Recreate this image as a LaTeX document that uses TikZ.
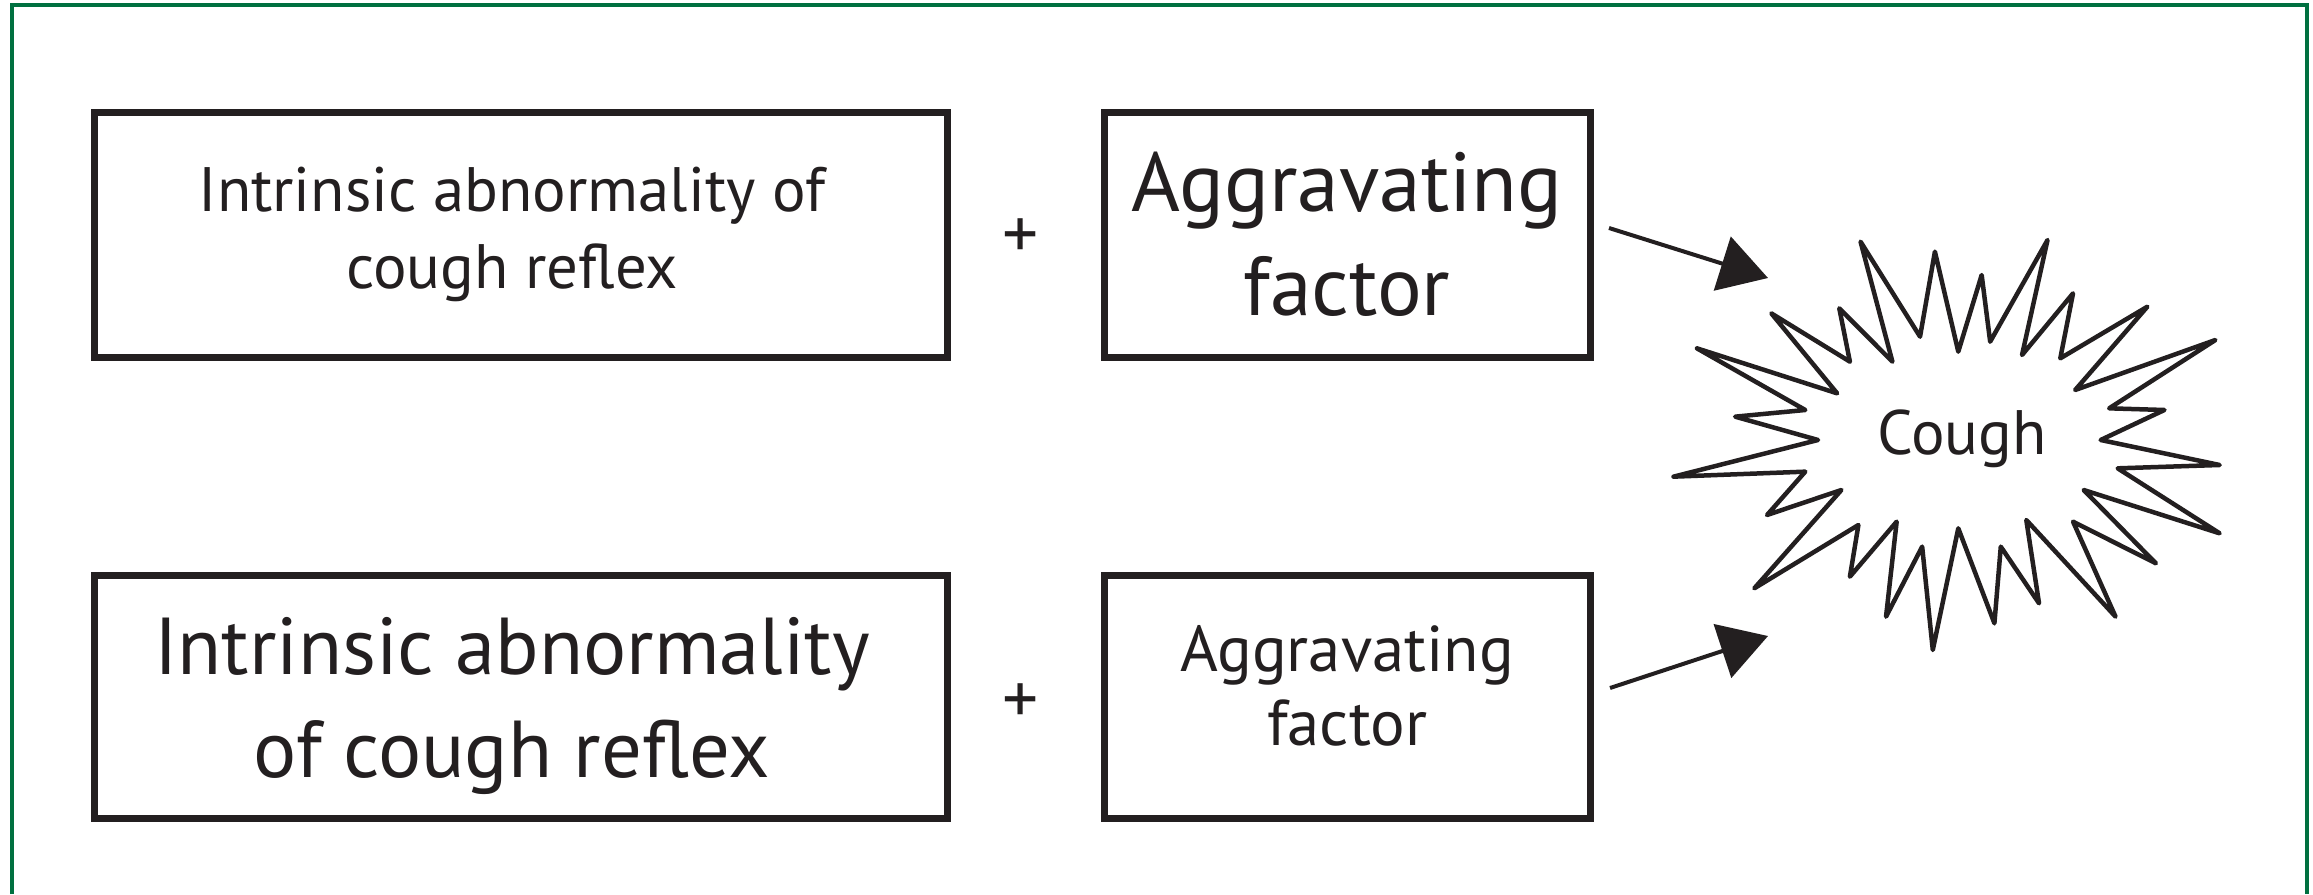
\documentclass[tikz,border=0pt]{standalone}
\usepackage{fontspec}
\setmainfont{PT Sans}
\usetikzlibrary{arrows.meta}
\definecolor{frame}{HTML}{007040}
\definecolor{ink}{HTML}{231F20}
\begin{document}
\begin{tikzpicture}[x=1bp,y=-1bp,
  box/.style={draw=ink,line width=7bp,rectangle,inner sep=0pt},
  wide/.style={box,minimum width=852bp},
  narrow/.style={box,minimum width=486bp},
  label/.style={align=center,text=ink,inner sep=0pt},
  plus/.style={text=ink,font=\fontsize{72}{72}\selectfont},
  conn/.style={draw=ink,line width=4bp,-{Triangle[length=48bp,width=56bp]}},
  burst/.style={draw=ink,line width=4.5bp,line join=round}]
\useasboundingbox (0,0) rectangle (2313,894);
\fill[white] (0,0) rectangle (2313,894);
\draw[frame,line width=4bp] (12,894) -- (12,5) -- (2307,5) -- (2307,894);

\node[wide,minimum height=245bp] (a1) at (521,234.5) {};
\node[narrow,minimum height=245bp] (b1) at (1347,234.5) {};
\node[wide,minimum height=243bp] (a2) at (521,696.5) {};
\node[narrow,minimum height=243bp] (b2) at (1347,696.5) {};

\node[label,font=\fontsize{63}{78}\selectfont] (ta1) at (512,234.5) {Intrinsic abnormality of\\cough reflex};
\node[label,font=\fontsize{84}{104}\selectfont] (tb1) at (1347,234.5) {Aggravating\\factor};
\node[label,font=\fontsize{81}{103}\selectfont] (ta2) at (512,706) {Intrinsic abnormality\\of cough reflex};
\node[label,font=\fontsize{65}{74}\selectfont] (tb2) at (1347,686) {Aggravating\\factor};
\node[plus] (p1) at (1021,239) {+};
\node[plus] (p2) at (1021,704) {+};

\begin{scope}[xshift=1580bp,yshift=-180bp,x=0.425bp,y=-0.33333bp]
\draw[burst] (660,185) -- (800,470) -- (835,215) -- (890,515) -- (945,285) -- (965,485)
 -- (1100,180) -- (1040,525) -- (1160,340) -- (1130,535) -- (1335,380) -- (1165,630)
 -- (1495,480) -- (1245,685) -- (1375,690) -- (1225,780) -- (1505,855) -- (1265,865)
 -- (1505,1060) -- (1185,930) -- (1355,1150) -- (1160,1025) -- (1260,1310) -- (1050,1020)
 -- (1080,1270) -- (990,1100) -- (975,1330) -- (890,1045) -- (830,1410) -- (805,1100)
 -- (720,1310) -- (745,1025) -- (635,1190) -- (655,1035) -- (410,1225) -- (615,930)
 -- (440,1005) -- (530,875) -- (220,890) -- (560,780) -- (365,710) -- (530,690)
 -- (275,505) -- (605,640) -- (450,400) -- (635,545) -- (610,385) -- (735,545) -- cycle;
\end{scope}
\node[text=ink,font=\fontsize{63}{63}\selectfont] (c) at (1962,439) {Cough};

\coordinate (s1) at (1609,228);
\coordinate (t1) at (1768,278);
\coordinate (s2) at (1610,688);
\coordinate (t2) at (1768,636);
\draw[conn] (s1) -- (t1);
\draw[conn] (s2) -- (t2);
\end{tikzpicture}
\end{document}
